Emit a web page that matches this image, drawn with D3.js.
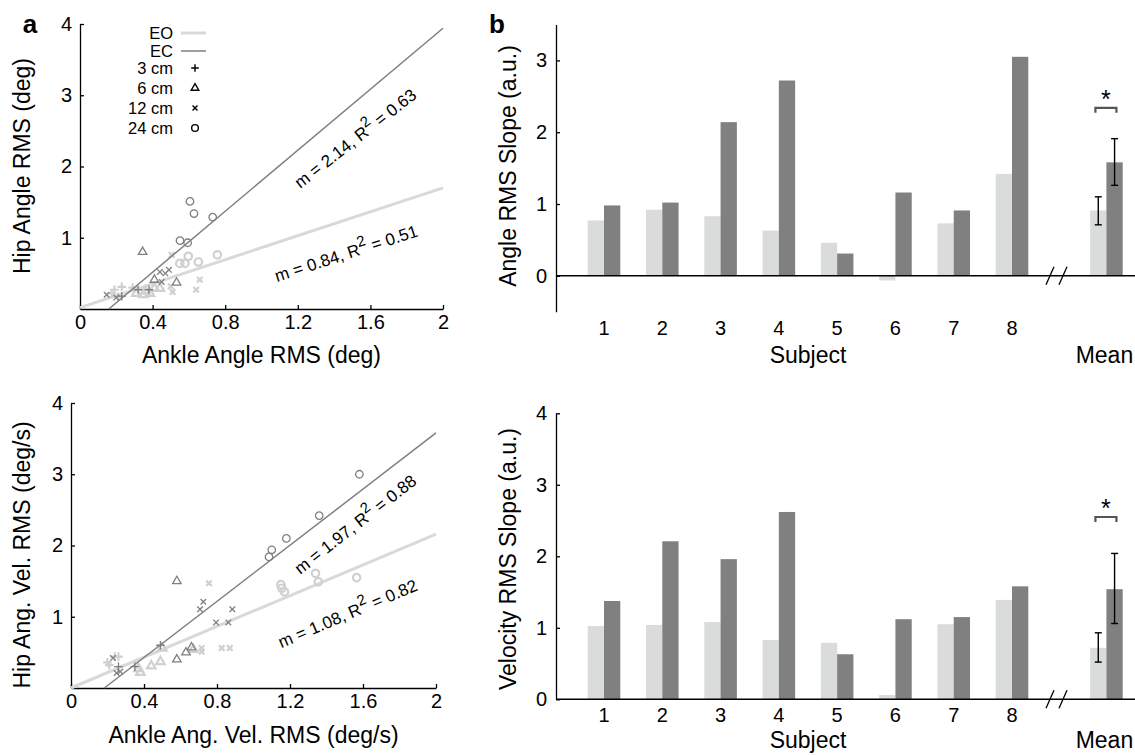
<!DOCTYPE html>
<html>
<head>
<meta charset="utf-8">
<script src="https://d3js.org/d3.v7.min.js"></script>
<style>
  body { margin: 0; background: #fff; }
  svg text { font-family: "Liberation Sans", Arial, Helvetica, sans-serif; fill: #000; }
  .axis path, .axis line { stroke: #000; stroke-width: 1.3; }
</style>
</head>
<body>
<svg id="fig" width="1135" height="755"></svg>
<script>
// ---- data: scatter points [ankle, hip, amplitude cm] ----
const angleEO = [
  [0.757,0.76,24],[0.652,0.66,24],[0.597,0.74,24],[0.578,0.64,24],[0.55,0.64,24],
  [0.31,0.22,6],[0.35,0.20,6],[0.385,0.22,6],[0.44,0.29,6],[0.41,0.29,6],[0.36,0.25,6],
  [0.66,0.41,12],[0.64,0.27,12],[0.505,0.76,12],[0.51,0.24,12],[0.50,0.32,12],
  [0.19,0.27,3],[0.23,0.31,3],[0.175,0.22,3],[0.21,0.17,3],[0.29,0.30,3]
];
const angleEC = [
  [0.606,1.51,24],[0.628,1.34,24],[0.731,1.29,24],[0.551,0.96,24],[0.593,0.93,24],
  [0.345,0.80,6],[0.532,0.37,6],[0.41,0.41,6],
  [0.147,0.20,12],[0.44,0.52,12],[0.47,0.50,12],[0.49,0.55,12],[0.45,0.38,12],[0.20,0.16,12],
  [0.32,0.27,3],[0.38,0.27,3],[0.23,0.18,3]
];
const velEO = [
  [1.15,1.45,24],[1.17,1.35,24],[1.34,1.61,24],[1.355,1.49,24],[1.565,1.55,24],[1.155,1.40,24],
  [0.37,0.27,6],[0.38,0.22,6],[0.44,0.31,6],[0.49,0.37,6],[0.50,0.56,6],[0.67,0.54,6],
  [0.756,1.47,12],[0.826,0.56,12],[0.716,0.56,12],[0.716,0.51,12],[0.87,0.56,12],
  [0.20,0.36,3],[0.21,0.32,3],[0.24,0.44,3],[0.26,0.44,3]
];
const velEC = [
  [1.58,3.0,24],[1.36,2.42,24],[1.18,2.10,24],[1.10,1.94,24],[1.085,1.84,24],
  [0.58,1.50,6],[0.58,0.40,6],[0.63,0.50,6],[0.66,0.57,6],
  [0.707,1.105,12],[0.725,1.21,12],[0.795,0.92,12],[0.884,1.105,12],[0.862,0.92,12],
  [0.23,0.42,12],[0.25,0.21,12],[0.27,0.23,12],
  [0.49,0.60,3],[0.35,0.30,3],[0.26,0.30,3]
];
// regression fits [slope, intercept, R2]
const angleFitEO = [0.84, 0.02, 0.51];
const angleFitEC = [2.14, -0.34, 0.63];
const velFitEO = [1.08, 0.0, 0.82];
const velFitEC = [1.97, -0.36, 0.88];

// ---- data: bar charts ----
const subjects = ["1","2","3","4","5","6","7","8"];
const angleSlopeEO = [0.77, 0.92, 0.83, 0.63, 0.46, -0.065, 0.73, 1.42];
const angleSlopeEC = [0.98, 1.02, 2.14, 2.72, 0.31, 1.16, 0.91, 3.05];
const angleMean = [0.91, 1.58];
const angleErrLo = [0.71, 1.26];
const angleErrHi = [1.10, 1.91];
const velSlopeEO = [1.025, 1.04, 1.08, 0.83, 0.79, 0.06, 1.05, 1.39];
const velSlopeEC = [1.375, 2.21, 1.96, 2.62, 0.63, 1.12, 1.15, 1.58];
const velMean = [0.72, 1.54];
const velErrLo = [0.52, 1.06];
const velErrHi = [0.93, 2.04];
const sigLevel = [2.34, 2.55];

const legendLabels = ["EO", "EC", "3 cm", "6 cm", "12 cm", "24 cm"];
const amplitudes = [3, 6, 12, 24];

const LIGHT = "#d9d9d9", DARK = "#7f7f7f";
const TICK_FS = "20px", TITLE_FS = "23px";
const svg = d3.select("#fig");

const symbolFor = {3: d3.symbolPlus, 6: d3.symbolTriangle2, 12: d3.symbolTimes, 24: d3.symbolCircle};
const sizeFor = {3: 26, 6: 52, 12: 22, 24: 44};

function scatterPanel(opt) {
  const x = d3.scaleLinear().domain([0, 2]).range(opt.xr);
  const y = d3.scaleLinear().domain([0, 4]).range(opt.yr);
  const g = svg.append("g");

  g.append("g").attr("class", "axis")
    .attr("transform", `translate(0,${opt.yr[0]})`)
    .call(d3.axisBottom(x).tickValues([0,0.4,0.8,1.2,1.6,2]).tickFormat(d3.format("~g"))
      .tickSizeInner(-4).tickSizeOuter(0).tickPadding(6));
  g.append("g").attr("class", "axis")
    .attr("transform", `translate(${opt.xr[0]},0)`)
    .call(d3.axisLeft(y).tickValues([1,2,3,4]).tickFormat(d3.format("d"))
      .tickSizeInner(-4).tickSizeOuter(0).tickPadding(8));
  g.selectAll(".axis text").style("font-size", TICK_FS).style("font-family", null);

  const fitLine = (f, x0) => [[x0, f[0]*x0 + f[1]], [2, f[0]*2 + f[1]]];
  const line = d3.line().x(d => x(d[0])).y(d => y(d[1]));
  const x0EC = -opt.fitEC[1] / opt.fitEC[0];

  g.append("path").datum(fitLine(opt.fitEO, 0)).attr("d", line)
    .attr("stroke", LIGHT).attr("stroke-width", 3).attr("fill", "none");
  g.selectAll(".eo").data(opt.eo).join("path")
    .attr("transform", d => `translate(${x(d[0])},${y(d[1])})`)
    .attr("d", d => d3.symbol(symbolFor[d[2]], sizeFor[d[2]])())
    .attr("fill", "none").attr("stroke", "#d0d0d0").attr("stroke-width", 2.2);
  g.append("path").datum(fitLine(opt.fitEC, x0EC)).attr("d", line)
    .attr("stroke", DARK).attr("stroke-width", 1.5).attr("fill", "none");
  g.selectAll(".ec").data(opt.ec).join("path")
    .attr("transform", d => `translate(${x(d[0])},${y(d[1])})`)
    .attr("d", d => d3.symbol(symbolFor[d[2]], sizeFor[d[2]])())
    .attr("fill", "none").attr("stroke", DARK).attr("stroke-width", 1.3);

  // fit annotations
  const ann = (f, pos, rot) => {
    const t = g.append("text").attr("transform", `translate(${pos[0]},${pos[1]}) rotate(${rot})`)
      .attr("text-anchor", "middle").style("font-size", "17px");
    t.append("tspan").text(`m = ${f[0].toFixed(2)}, R`);
    t.append("tspan").attr("dy", -8).style("font-size", "15px").text("2");
    t.append("tspan").attr("dy", 8).text(` = ${f[2].toFixed(2)}`);
  };
  ann(opt.fitEC, opt.annEC, opt.rotEC);
  ann(opt.fitEO, opt.annEO, opt.rotEO);

  g.append("text").attr("x", (opt.xr[0]+opt.xr[1])/2).attr("y", opt.yr[0] + opt.xlabOff)
    .attr("text-anchor", "middle").style("font-size", TITLE_FS).text(opt.xlab);
  g.append("text").attr("transform", `translate(22,${opt.ylabY}) rotate(-90)`)
    .attr("text-anchor", "middle").attr("dy", "0.35em").style("font-size", TITLE_FS).text(opt.ylab);
}

scatterPanel({xr: [80, 443], yr: [309, 24], eo: angleEO, ec: angleEC,
  fitEO: angleFitEO, fitEC: angleFitEC,
  annEC: [359, 143], rotEC: -38, annEO: [348, 259], rotEO: -18,
  xlab: "Ankle Angle RMS (deg)", xlabOff: 54, ylab: "Hip Angle RMS (deg)", ylabY: 166});
scatterPanel({xr: [71, 436], yr: [688, 403], eo: velEO, ec: velEC,
  fitEO: velFitEO, fitEC: velFitEC,
  annEC: [359, 529], rotEC: -38, annEO: [350, 619], rotEO: -23,
  xlab: "Ankle Ang. Vel. RMS (deg/s)", xlabOff: 55, ylab: "Hip Ang. Vel. RMS (deg/s)", ylabY: 555});

// legend (top scatter)
const legRows = [33, 51, 68, 88, 108, 128];
const leg = svg.append("g");
legendLabels.forEach((lab, i) => {
  leg.append("text").attr("x", 173).attr("y", legRows[i]).attr("dy", "0.35em")
    .attr("text-anchor", "end").style("font-size", "16.5px").text(lab);
});
leg.append("line").attr("x1", 181).attr("x2", 206).attr("y1", legRows[0]).attr("y2", legRows[0])
  .attr("stroke", LIGHT).attr("stroke-width", 3);
leg.append("line").attr("x1", 181).attr("x2", 206).attr("y1", legRows[1]).attr("y2", legRows[1])
  .attr("stroke", DARK).attr("stroke-width", 1.5);
amplitudes.forEach((a, i) => {
  leg.append("path").attr("transform", `translate(195,${legRows[i+2]})`)
    .attr("d", d3.symbol(symbolFor[a], sizeFor[a] * 0.8)())
    .attr("fill", "none").attr("stroke", "#000").attr("stroke-width", 1.4);
});

// ---- bar panels ----
function barPanel(opt) {
  const xPos = d3.scaleLinear().domain([1, 8]).range([604, 1012]);
  const y = d3.scaleLinear().domain(opt.domain).range(opt.yr);
  const bw = 16.3;
  const meanSlot = 9.62;
  const g = svg.append("g");

  g.append("g").attr("class", "axis").attr("transform", "translate(556,0)")
    .call(d3.axisLeft(y).tickValues(opt.ticks).tickFormat(d3.format("d"))
      .tickSizeInner(-4).tickSizeOuter(0).tickPadding(9))
    .selectAll("text").style("font-size", TICK_FS);

  const rows = subjects.map((s, i) => ({slot: i + 1, eo: opt.eo[i], ec: opt.ec[i]}));
  rows.push({slot: meanSlot, eo: opt.mean[0], ec: opt.mean[1]});

  g.selectAll(".beo").data(rows).join("rect")
    .attr("x", d => xPos(d.slot) - bw).attr("width", bw)
    .attr("y", d => y(Math.max(0, d.eo))).attr("height", d => Math.abs(y(d.eo) - y(0)))
    .attr("fill", "#dadbdb");
  g.selectAll(".bec").data(rows).join("rect")
    .attr("x", d => xPos(d.slot)).attr("width", bw)
    .attr("y", d => y(Math.max(0, d.ec))).attr("height", d => Math.abs(y(d.ec) - y(0)))
    .attr("fill", "#808080");

  // zero line
  g.append("line").attr("x1", 556).attr("x2", 1135).attr("y1", y(0)).attr("y2", y(0))
    .attr("stroke", "#000").attr("stroke-width", 1.5);
  // axis break
  [1050, 1063].forEach(bx => {
    g.append("line").attr("x1", bx - 4).attr("x2", bx + 4)
      .attr("y1", y(0) + 9).attr("y2", y(0) - 9).attr("stroke", "#000").attr("stroke-width", 1.3);
  });

  // error bars
  [0, 1].forEach(k => {
    const cx = xPos(meanSlot) + (k === 0 ? -bw/2 : bw/2);
    const lo = y(opt.errLo[k]), hi = y(opt.errHi[k]);
    g.append("line").attr("x1", cx).attr("x2", cx).attr("y1", lo).attr("y2", hi)
      .attr("stroke", "#000").attr("stroke-width", 1.4);
    [lo, hi].forEach(yy => g.append("line").attr("x1", cx - 3.5).attr("x2", cx + 3.5)
      .attr("y1", yy).attr("y2", yy).attr("stroke", "#000").attr("stroke-width", 1.4));
  });

  // significance bracket
  const sx1 = xPos(meanSlot) - 11, sx2 = xPos(meanSlot) + 10, sy = y(opt.sig);
  g.append("path").attr("d", `M${sx1},${sy + 5}V${sy}H${sx2}V${sy + 5}`)
    .attr("fill", "none").attr("stroke", "#555").attr("stroke-width", 2.2);
  g.append("text").attr("x", (sx1 + sx2) / 2).attr("y", sy)
    .attr("text-anchor", "middle").style("font-size", "25px").text("*");

  // category labels
  const base = y(opt.domain[0]);
  g.selectAll(".cl").data(subjects).join("text")
    .attr("x", (d, i) => xPos(i + 1)).attr("y", base + 23)
    .attr("text-anchor", "middle").style("font-size", TICK_FS).text(d => d);
  g.append("text").attr("x", (xPos(4) + xPos(5)) / 2).attr("y", base + 23 + opt.titleOff)
    .attr("text-anchor", "middle").style("font-size", TITLE_FS).text("Subject");
  g.append("text").attr("x", xPos(meanSlot) - 2).attr("y", base + 23 + opt.titleOff)
    .attr("text-anchor", "middle").style("font-size", TITLE_FS).text("Mean");

  g.append("text").attr("transform", `translate(508,${opt.ylabY}) rotate(-90)`)
    .attr("text-anchor", "middle").attr("dy", "0.35em").style("font-size", TITLE_FS).text(opt.ylab);
}

barPanel({domain: [-0.5, 3.5], yr: [311.7, 24.5], ticks: [0,1,2,3],
  eo: angleSlopeEO, ec: angleSlopeEC, mean: angleMean, errLo: angleErrLo, errHi: angleErrHi,
  sig: sigLevel[0], titleOff: 28, ylab: "Angle RMS Slope (a.u.)", ylabY: 166});
barPanel({domain: [0, 4], yr: [699.3, 413.3], ticks: [0,1,2,3,4],
  eo: velSlopeEO, ec: velSlopeEC, mean: velMean, errLo: velErrLo, errHi: velErrHi,
  sig: sigLevel[1], titleOff: 26, ylab: "Velocity RMS Slope (a.u.)", ylabY: 559});

// panel letters
svg.append("text").attr("x", 30).attr("y", 33).attr("text-anchor", "middle")
  .style("font-size", "26px").style("font-weight", "bold").text("a");
svg.append("text").attr("x", 497).attr("y", 33).attr("text-anchor", "middle")
  .style("font-size", "26px").style("font-weight", "bold").text("b");
</script>
</body>
</html>
